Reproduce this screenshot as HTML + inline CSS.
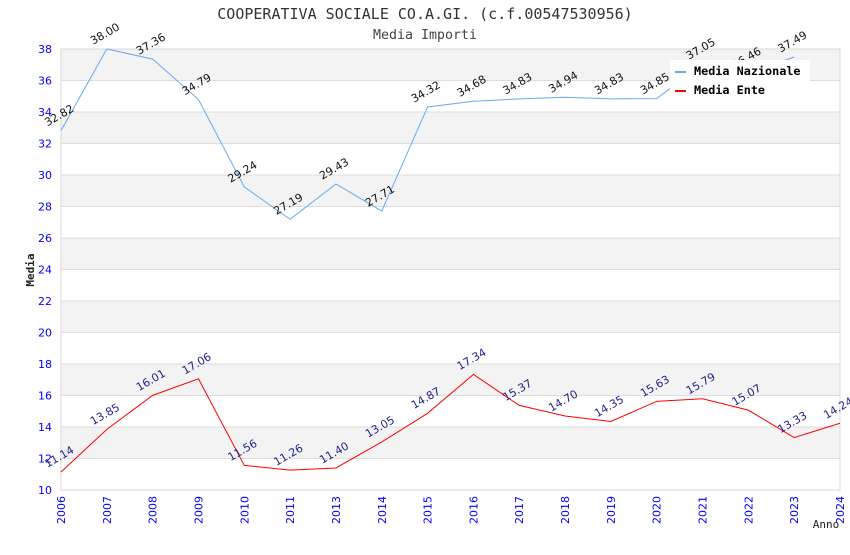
<!DOCTYPE html>
<html><head><meta charset="utf-8"><style>
body{margin:0;background:#fff;}
</style></head><body>
<svg id="chart" width="850" height="550" xmlns="http://www.w3.org/2000/svg">
<text x="425" y="19" text-anchor="middle" style="font-family:'DejaVu Sans Mono','Liberation Mono',monospace;font-size:15px" fill="#333">COOPERATIVA SOCIALE CO.A.GI. (c.f.00547530956)</text>
<text x="425" y="39" text-anchor="middle" style="font-family:'DejaVu Sans Mono','Liberation Mono',monospace;font-size:13.3px" fill="#444">Media Importi</text>
<g id="bands"></g><g id="grid"></g><g id="axes"></g><g id="series"></g><g id="labels"></g>
<text transform="translate(34,270) rotate(-90)" text-anchor="middle" style="font-family:'DejaVu Sans Mono','Liberation Mono',monospace;font-size:11px;font-weight:bold" fill="#222">Media</text>
<text x="826" y="528" text-anchor="middle" style="font-family:'DejaVu Sans Mono','Liberation Mono',monospace;font-size:11px" fill="#222">Anno</text>
<g>
<rect x="670" y="60" width="140" height="42" fill="#fff"/>
<line x1="675" y1="72" x2="686" y2="72" stroke="#66aaee" stroke-width="2"/>
<text x="694" y="75" style="font-family:'DejaVu Sans Mono','Liberation Mono',monospace;font-size:11.8px;font-weight:bold" fill="#000">Media Nazionale</text>
<line x1="675" y1="91" x2="686" y2="91" stroke="#ff0000" stroke-width="2"/>
<text x="694" y="94" style="font-family:'DejaVu Sans Mono','Liberation Mono',monospace;font-size:11.8px;font-weight:bold" fill="#000">Media Ente</text>
</g>
</svg>
<script>
const years=["2006","2007","2008","2009","2010","2011","2013","2014","2015","2016","2017","2018","2019","2020","2021","2022","2023","2024"];
const nazionale=[32.82,38.00,37.36,34.79,29.24,27.19,29.43,27.71,34.32,34.68,34.83,34.94,34.83,34.85,37.05,36.46,37.49];
const ente=[11.14,13.85,16.01,17.06,11.56,11.26,11.40,13.05,14.87,17.34,15.37,14.70,14.35,15.63,15.79,15.07,13.33,14.24];
const yTicks=[10,12,14,16,18,20,22,24,26,28,30,32,34,36,38];
const NS="http://www.w3.org/2000/svg";
const L=61,R=840,T=49,B=490,YMIN=10,YMAX=38;
const SANS="font-family:'DejaVu Sans','Liberation Sans',sans-serif;";
const xs=i=>L+i*(R-L)/(years.length-1);
const ys=v=>B-(v-YMIN)*(B-T)/(YMAX-YMIN);
function mk(tag,attrs,parent){const e=document.createElementNS(NS,tag);for(const k in attrs)e.setAttribute(k,attrs[k]);document.getElementById(parent).appendChild(e);return e;}
for(let i=0;i<yTicks.length-1;i++){
 if(i%2===1){const b=mk('rect',{x:L,y:ys(yTicks[i+1]),width:R-L,height:ys(yTicks[i])-ys(yTicks[i+1]),fill:'#f3f3f3'},'bands');
 
 }
}
yTicks.forEach(v=>{
 const g=mk('line',{x1:L,x2:R,y1:ys(v),y2:ys(v),stroke:'#dddddd','stroke-width':1},'grid');
 
 
 const t=mk('text',{x:L-9,y:ys(v)+4,'text-anchor':'end',style:SANS+'font-size:11px',fill:'#0000ff'},'axes');
 t.textContent=v;
 
 
});
mk('rect',{x:L,y:T,width:R-L,height:B-T,fill:'none',stroke:'#d8d8d8'},'axes');
years.forEach((y,i)=>{
 const t=mk('text',{transform:`translate(${xs(i)+4},${B+6}) rotate(-90)`,'text-anchor':'end',style:SANS+'font-size:11px',fill:'#0000ff'},'axes');
 t.textContent=y;
 
 
});
function series(vals,color,lblColor,name){
 const p=mk('polyline',{points:vals.map((v,i)=>xs(i)+','+ys(v)).join(' '),fill:'none',stroke:color,'stroke-width':1},'series');
 
 
 vals.forEach((v,i)=>{
  const t=mk('text',{transform:`translate(${xs(i)},${ys(v)-12}) rotate(-30)`,'text-anchor':'middle',style:SANS+'font-size:11px',fill:lblColor},'labels');
  t.textContent=v.toFixed(2);
  
  
 });
}
series(nazionale,'#66aaee','#111','nazionale');
series(ente,'#ff0000','#22228a','ente');
</script>
</body></html>
